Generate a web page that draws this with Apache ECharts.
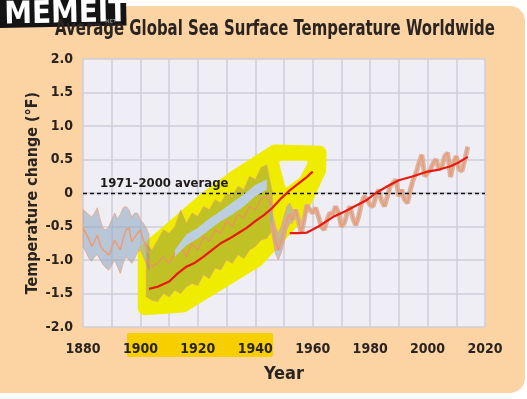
<!DOCTYPE html>
<html>
<head>
<meta charset="utf-8">
<script src="https://cdn.jsdelivr.net/npm/echarts@6/dist/echarts.min.js"></script>
<style>
html,body{margin:0;padding:0;background:#fff}
#chart{width:527px;height:399px}
</style>
</head>
<body>
<div id="chart"></div>
<script>
// ---- data (°F, vs 1971-2000 average) ----
const range = (a, b) => { const r = []; for (let y = a; y <= b; y++) r.push(y); return r; };

// early record 1880-1903 (untouched)
const yearsA = range(1880, 1903);
const orangeA = [-0.52,-0.6,-0.68,-0.8,-0.72,-0.63,-0.78,-0.85,-0.88,-0.93,-0.82,-0.7,-0.78,-0.85,-0.68,-0.55,-0.52,-0.73,-0.66,-0.6,-0.55,-0.7,-0.8,-0.9];
const upperA  = [-0.25,-0.28,-0.32,-0.36,-0.3,-0.22,-0.4,-0.53,-0.55,-0.5,-0.4,-0.3,-0.38,-0.32,-0.22,-0.2,-0.25,-0.36,-0.3,-0.3,-0.4,-0.45,-0.52,-0.62];
const lowerA  = [-0.8,-0.88,-0.97,-1.02,-0.95,-0.92,-1.0,-1.07,-1.12,-1.15,-1.08,-1.0,-1.1,-1.2,-1.05,-0.95,-1.0,-1.05,-0.98,-0.88,-0.85,-0.95,-1.05,-1.15];

// tilted middle section 1902-1946
const yearsB  = [1902,1904,1906,1908,1910,1912,1914,1916,1918,1920,1922,1924,1926,1928,1930,1932,1934,1936,1938,1940,1942,1944,1946];
const upperB  = [-0.75,-0.85,-0.7,-0.55,-0.6,-0.5,-0.25,-0.45,-0.3,-0.35,-0.2,-0.25,-0.1,-0.15,0.0,-0.05,0.1,0.05,0.25,0.2,0.38,0.42,0.0];
const orangeB = [-1.0,-1.1,-1.05,-0.95,-1.05,-0.9,-0.8,-0.95,-0.75,-0.85,-0.65,-0.72,-0.55,-0.6,-0.42,-0.5,-0.32,-0.38,-0.2,-0.25,-0.08,-0.05,-0.2];
const lowerB  = [-1.55,-1.6,-1.62,-1.5,-1.55,-1.45,-1.5,-1.4,-1.35,-1.38,-1.22,-1.28,-1.12,-1.15,-1.0,-1.05,-0.92,-0.98,-0.85,-0.8,-0.7,-0.68,-0.55];
const stripYears = [1912,1916,1920,1924,1928,1932,1936,1940,1944];
const stripLo = [-0.95,-0.78,-0.68,-0.55,-0.42,-0.32,-0.2,-0.05,0.05];
const stripHi = [-0.85,-0.62,-0.52,-0.38,-0.27,-0.14,-0.02,0.12,0.2];

// dip where original record resumes
const yearsD = [1945,1946,1947,1948,1949,1950,1951,1952,1953];
const upperD = [0.0,-0.3,-0.5,-0.6,-0.5,-0.35,-0.2,-0.15,-0.25];
const lowerD = [-0.4,-0.65,-0.9,-1.0,-0.9,-0.75,-0.55,-0.45,-0.45];

// later record 1946-2014
const yearsC = range(1946, 2014);
const orangeC = [-0.45,-0.7,-0.85,-0.72,-0.55,-0.4,-0.32,-0.4,-0.25,-0.4,-0.6,-0.4,-0.18,-0.25,-0.3,-0.22,-0.35,-0.5,-0.55,-0.4,
  -0.3,-0.32,-0.2,-0.3,-0.5,-0.45,-0.3,-0.2,-0.38,-0.48,-0.35,-0.15,-0.05,-0.1,-0.18,-0.2,-0.05,0.05,-0.12,-0.2,
  -0.05,0.1,0.15,0.2,-0.05,0.05,-0.1,-0.15,0.05,0.2,0.3,0.45,0.57,0.25,0.3,0.35,0.45,0.5,0.35,0.4,
  0.55,0.6,0.24,0.45,0.55,0.35,0.33,0.5,0.69];

// red trend lines
const trendYearsB = [1903,1906,1910,1913,1916,1919,1922,1925,1928,1931,1934,1937,1940,1943,1946,1949,1952,1955,1958,1960];
const trendB = [-1.43,-1.4,-1.32,-1.2,-1.1,-1.04,-0.95,-0.85,-0.75,-0.68,-0.6,-0.52,-0.42,-0.33,-0.22,-0.08,0.04,0.14,0.24,0.32];
const trendYearsC = [1952,1955,1958,1962,1967,1971,1975,1979,1982,1986,1990,1995,2000,2004,2008,2011,2014];
const trendC = [-0.6,-0.6,-0.59,-0.5,-0.36,-0.28,-0.19,-0.1,0.0,0.1,0.19,0.25,0.32,0.35,0.4,0.46,0.54];

// highlighter outline and the unmarked gap inside its loop (year, °F)
const hlOutline = [[1901.5,-0.87],[1910.3,-0.55],[1921.8,-0.12],[1933,0.24],[1946.9,0.62],[1962.4,0.6],[1962.2,0.34],
  [1955,-0.33],[1940.6,-1.0],[1914.8,-1.68],[1901.5,-1.72]];
const hlHole = [[1949,0.45],[1957.5,0.45],[1955,0.25],[1951,0.12]];
const hlYears = [1895.3, 1946.2];   // marker behind the x labels 1900-1940

const avgLabel = '1971–2000 average';
const titleText = 'Average Global Sea Surface Temperature Worldwide';

// ---- chart ----
const pairs = (xs, vs) => xs.map((x, i) => [x, vs[i]]);
const FONT = '"DejaVu Sans Condensed", "DejaVu Sans", sans-serif';
const INK = '#2a2420';
const PLOT_BG = '#EFEEF5';

function band(xs, lo, hi, fill, stroke, z) {
  return {
    type: 'custom', z: z, silent: true, data: [[xs[0], lo[0]]],
    renderItem: function (params, api) {
      const pts = [];
      for (let i = 0; i < xs.length; i++) pts.push(api.coord([xs[i], hi[i]]));
      for (let i = xs.length - 1; i >= 0; i--) pts.push(api.coord([xs[i], lo[i]]));
      return { type: 'polygon', shape: { points: pts }, style: { fill: fill, stroke: stroke, lineWidth: 1 } };
    }
  };
}
function area(pts, fill, edge, z) {
  return {
    type: 'custom', z: z, silent: true, data: [pts[0]],
    renderItem: function (params, api) {
      return {
        type: 'polygon', shape: { points: pts.map(p => api.coord(p)) },
        style: { fill: fill, stroke: fill, lineWidth: edge, lineJoin: 'round' }
      };
    }
  };
}
function line(xs, vs, color, width, z, extra) {
  return Object.assign({
    type: 'line', z: z, silent: true, symbol: 'none', data: pairs(xs, vs),
    lineStyle: { color: color, width: width }
  }, extra || {});
}

const chart = echarts.init(document.getElementById('chart'));
chart.setOption({
  animation: false,
  backgroundColor: '#ffffff',
  graphic: [
    { id: 'panel', type: 'rect', z: -10, silent: true, shape: { x: -20, y: 6, width: 545, height: 387, r: [0, 15, 15, 0] }, style: { fill: '#FCD3A3' } },
    { id: 'title', type: 'text', z: 50, silent: true, x: 275, y: 30, scaleX: 0.79,
      style: { text: titleText, fill: INK, font: 'bold 21px ' + FONT, textAlign: 'center', textVerticalAlign: 'middle' } },
    { id: 'logo', type: 'group', z: 100, rotation: 0.02, children: [
      { type: 'rect', shape: { x: -6, y: -6, width: 132, height: 34 }, style: { fill: '#141414' } },
      { type: 'text', style: { x: 4, y: 0, text: 'MEMEIT', fill: '#ffffff', font: 'bold 31px ' + FONT } },
      { type: 'text', style: { x: 104, y: 21, text: '.NET', fill: '#bbbbbb', font: '5px sans-serif' } }
    ] }
  ],
  grid: {
    left: 83, top: 59, width: 402, height: 268,
    show: true, backgroundColor: PLOT_BG, borderWidth: 0
  },
  xAxis: {
    type: 'value', min: 1880, max: 2020, interval: 10,
    name: 'Year', nameLocation: 'middle', nameGap: 38, nameMoveOverlap: false,
    nameTextStyle: { fontFamily: FONT, fontWeight: 'bold', fontSize: 18, color: INK },
    axisLine: { show: false }, axisTick: { show: false },
    splitLine: { lineStyle: { color: '#CFCED9', width: 1.5 } },
    axisLabel: {
      margin: 15, fontFamily: FONT, fontWeight: 'bold', fontSize: 14, color: INK,
      formatter: v => (v - 1880) % 20 ? '' : String(v)
    }
  },
  yAxis: {
    type: 'value', min: -2, max: 2, interval: 0.5,
    name: 'Temperature change (°F)', nameLocation: 'middle', nameGap: 42, nameMoveOverlap: false,
    nameTextStyle: { fontFamily: FONT, fontWeight: 'bold', fontSize: 16, color: INK },
    axisLine: { show: false }, axisTick: { show: false },
    splitLine: { lineStyle: { color: '#CFCED9', width: 1.5 } },
    axisLabel: {
      margin: 10, fontFamily: FONT, fontWeight: 'bold', fontSize: 14, color: INK,
      formatter: v => v === 0 ? '0' : v.toFixed(1)
    }
  },
  series: [
    area(hlOutline, '#F0EC00', 14, 1),
    area(hlHole, PLOT_BG, 4, 1),
    band(yearsA, lowerA, upperA, 'rgba(150,172,198,0.62)', 'rgba(236,160,120,0.7)', 2),
    band(yearsB, lowerB, upperB, 'rgba(120,130,90,0.4)', 'rgba(236,160,120,0.6)', 2),
    band(yearsD, lowerD, upperD, 'rgba(150,172,198,0.62)', 'rgba(236,160,120,0.7)', 2),
    line(yearsC, orangeC, 'rgba(214,170,150,0.85)', 5, 3),
    line(yearsA, orangeA, '#EE9A6C', 1.4, 4, {
      markLine: {
        silent: true, symbol: 'none', data: [{ yAxis: 0 }],
        lineStyle: { type: [4, 3], color: '#111', width: 1.3 },
        label: {
          show: true, position: 'insideStartTop', distance: [17, 3], formatter: avgLabel,
          fontFamily: FONT, fontWeight: 'bold', fontSize: 13, color: '#1e1a18'
        }
      }
    }),
    line(yearsB, orangeB, '#E8955E', 1.4, 4),
    line(yearsC, orangeC, '#EE9A6C', 1.4, 4),
    band(stripYears, stripLo, stripHi, '#BCCFE0', 'none', 5),
    line(trendYearsB, trendB, '#E8190F', 2.2, 6),
    line(trendYearsC, trendC, '#E8190F', 2.2, 6)
  ]
});

// yellow marker stroke behind the 1900-1940 year labels, placed via the x scale
const hx0 = chart.convertToPixel({ xAxisIndex: 0 }, hlYears[0]);
const hx1 = chart.convertToPixel({ xAxisIndex: 0 }, hlYears[1]);
chart.setOption({
  graphic: [{ id: 'labelMark', type: 'rect', z: -5, silent: true,
    shape: { x: hx0, y: 333, width: hx1 - hx0, height: 24, r: 2 }, style: { fill: '#F7CF00' } }]
});
</script>
</body>
</html>
